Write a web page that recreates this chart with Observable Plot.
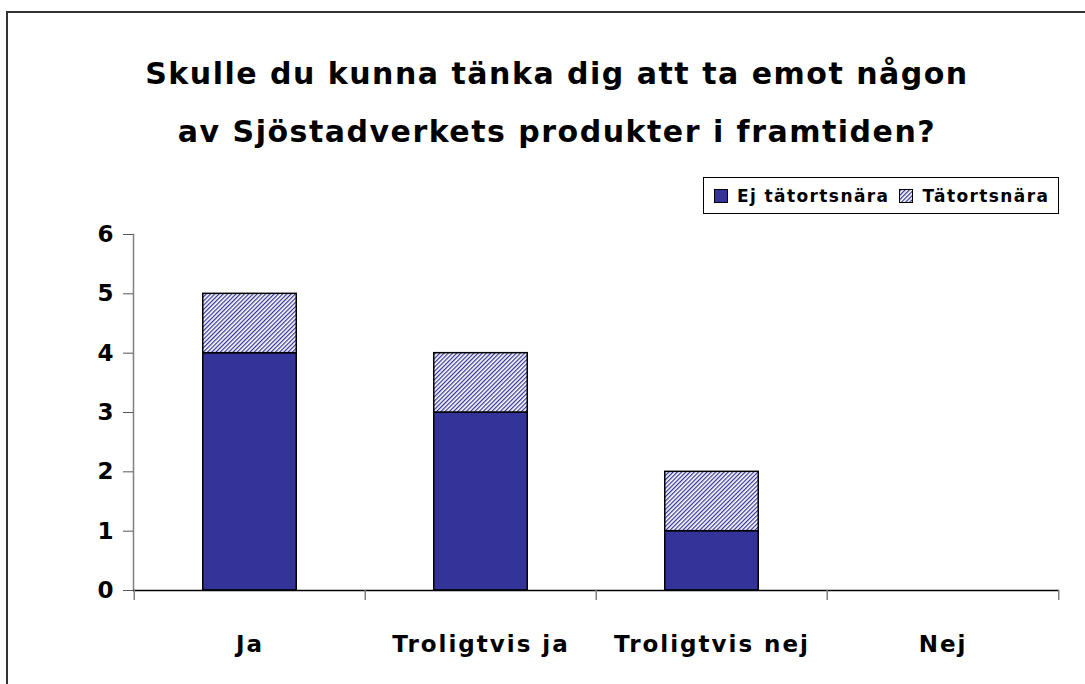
<!DOCTYPE html>
<html>
<head>
<meta charset="utf-8">
<script src="https://cdn.jsdelivr.net/npm/d3@7"></script>
<script src="https://cdn.jsdelivr.net/npm/@observablehq/plot@0.6"></script>
<style>
  html, body { margin: 0; padding: 0; background: #fff; }
  body { width: 1085px; height: 684px; position: relative; overflow: hidden;
         font-family: "Comic Sans MS", "DejaVu Sans", sans-serif; font-weight: bold; color: #000; }
  #frame { position: absolute; left: 6px; top: 11px; width: 1200px; height: 800px;
           border-top: 2px solid #333; border-left: 2px solid #333; }
  #title { position: absolute; left: 0; top: 45px; width: 1114px; text-align: center;
           font-size: 30px; letter-spacing: 1.5px; line-height: 58px; }
  #chart { position: absolute; left: 0; top: 160px; }
  #chart svg g[aria-label="x-axis tick label"] text { letter-spacing: 2px; }
  #legend { position: absolute; left: 703px; top: 177px; width: 354px; height: 35px;
            border: 1px solid #000; background: #fff; display: flex; align-items: center;
            font-size: 17px; letter-spacing: 1.4px; white-space: nowrap; }
  .sw { display: inline-block; width: 12px; height: 12px; border: 1px solid #000; margin: 0 9px 0 10px; }
</style>
</head>
<body>
<svg width="0" height="0" style="position:absolute">
  <defs>
    <pattern id="hatch" width="3" height="3" patternUnits="userSpaceOnUse" patternTransform="rotate(45)">
      <rect width="3" height="3" fill="#ffffff"></rect>
      <line x1="0.6" y1="0" x2="0.6" y2="3" stroke="#333399" stroke-width="1.3"></line>
    </pattern>
  </defs>
</svg>
<div id="frame"></div>
<div id="title"></div>
<div id="chart"></div>
<div id="legend"></div>
<script>
// ---- data ----
const titleLines = ["Skulle du kunna tänka dig att ta emot någon", "av Sjöstadverkets produkter i framtiden?"];
const categories = ["Ja", "Troligtvis ja", "Troligtvis nej", "Nej"];
const series = ["Ej tätortsnära", "Tätortsnära"];
const ejTatortsnara = [4, 3, 1, 0];
const tatortsnara = [1, 1, 1, 0];
const yTicks = [0, 1, 2, 3, 4, 5, 6];
const seriesColors = ["#333399", "url(#hatch)"];

// ---- build table ----
const rows = [];
categories.forEach((c, i) => {
  rows.push({cat: c, series: series[0], value: ejTatortsnara[i]});
  rows.push({cat: c, series: series[1], value: tatortsnara[i]});
});

document.getElementById("title").innerHTML = titleLines.map(t => `<div>${t}</div>`).join("");

const W = 1085, H = 524, mL = 133, mR = 26, mT = 74, mB = 94;
const step = (W - mL - mR) / categories.length;
const font = `"Comic Sans MS", "DejaVu Sans", sans-serif`;

const chart = Plot.plot({
  width: W, height: H,
  marginLeft: mL, marginRight: mR, marginTop: mT, marginBottom: mB,
  style: {fontFamily: font, fontWeight: "bold", background: "transparent", color: "#000"},
  x: {domain: categories, padding: 0, label: null},
  y: {domain: [0, 6], label: null},
  color: {domain: series, range: seriesColors},
  marks: [
    Plot.frame({anchor: "left", stroke: "#808080", strokeWidth: 1.5}),
    Plot.barY(rows, {x: "cat", y: "value", fill: "series", stroke: "#000", strokeWidth: 1.5,
                     insetLeft: step * 0.297, insetRight: step * 0.297}),
    Plot.ruleY([0], {stroke: "#000", strokeWidth: 1.5}),
    Plot.axisY({ticks: yTicks, tickSize: 10, tickPadding: 10, tickFormat: d => String(d),
                fontSize: 23, stroke: "#555", fill: "#000"}),
    Plot.axisX({ticks: categories, tickSize: 10, text: null, dx: -step / 2, stroke: "#808080", strokeWidth: 1.5}),
    Plot.axisX({ticks: categories.slice(-1), tickSize: 10, text: null, dx: step / 2, stroke: "#808080", strokeWidth: 1.5}),
    Plot.axisX({ticks: categories, tickSize: 0, tickPadding: 45, fontSize: 23, fill: "#000"})
  ]
});
document.getElementById("chart").appendChild(chart);

// legend
const leg = document.getElementById("legend");
series.forEach((s, i) => {
  const sw = document.createElement("span");
  sw.className = "sw";
  if (i === 0) sw.style.background = seriesColors[0];
  else sw.innerHTML = `<svg width="12" height="12" style="display:block"><rect width="12" height="12" fill="${seriesColors[1]}"/></svg>`;
  leg.appendChild(sw);
  const t = document.createElement("span");
  t.textContent = s;
  leg.appendChild(t);
});
</script>
</body>
</html>
